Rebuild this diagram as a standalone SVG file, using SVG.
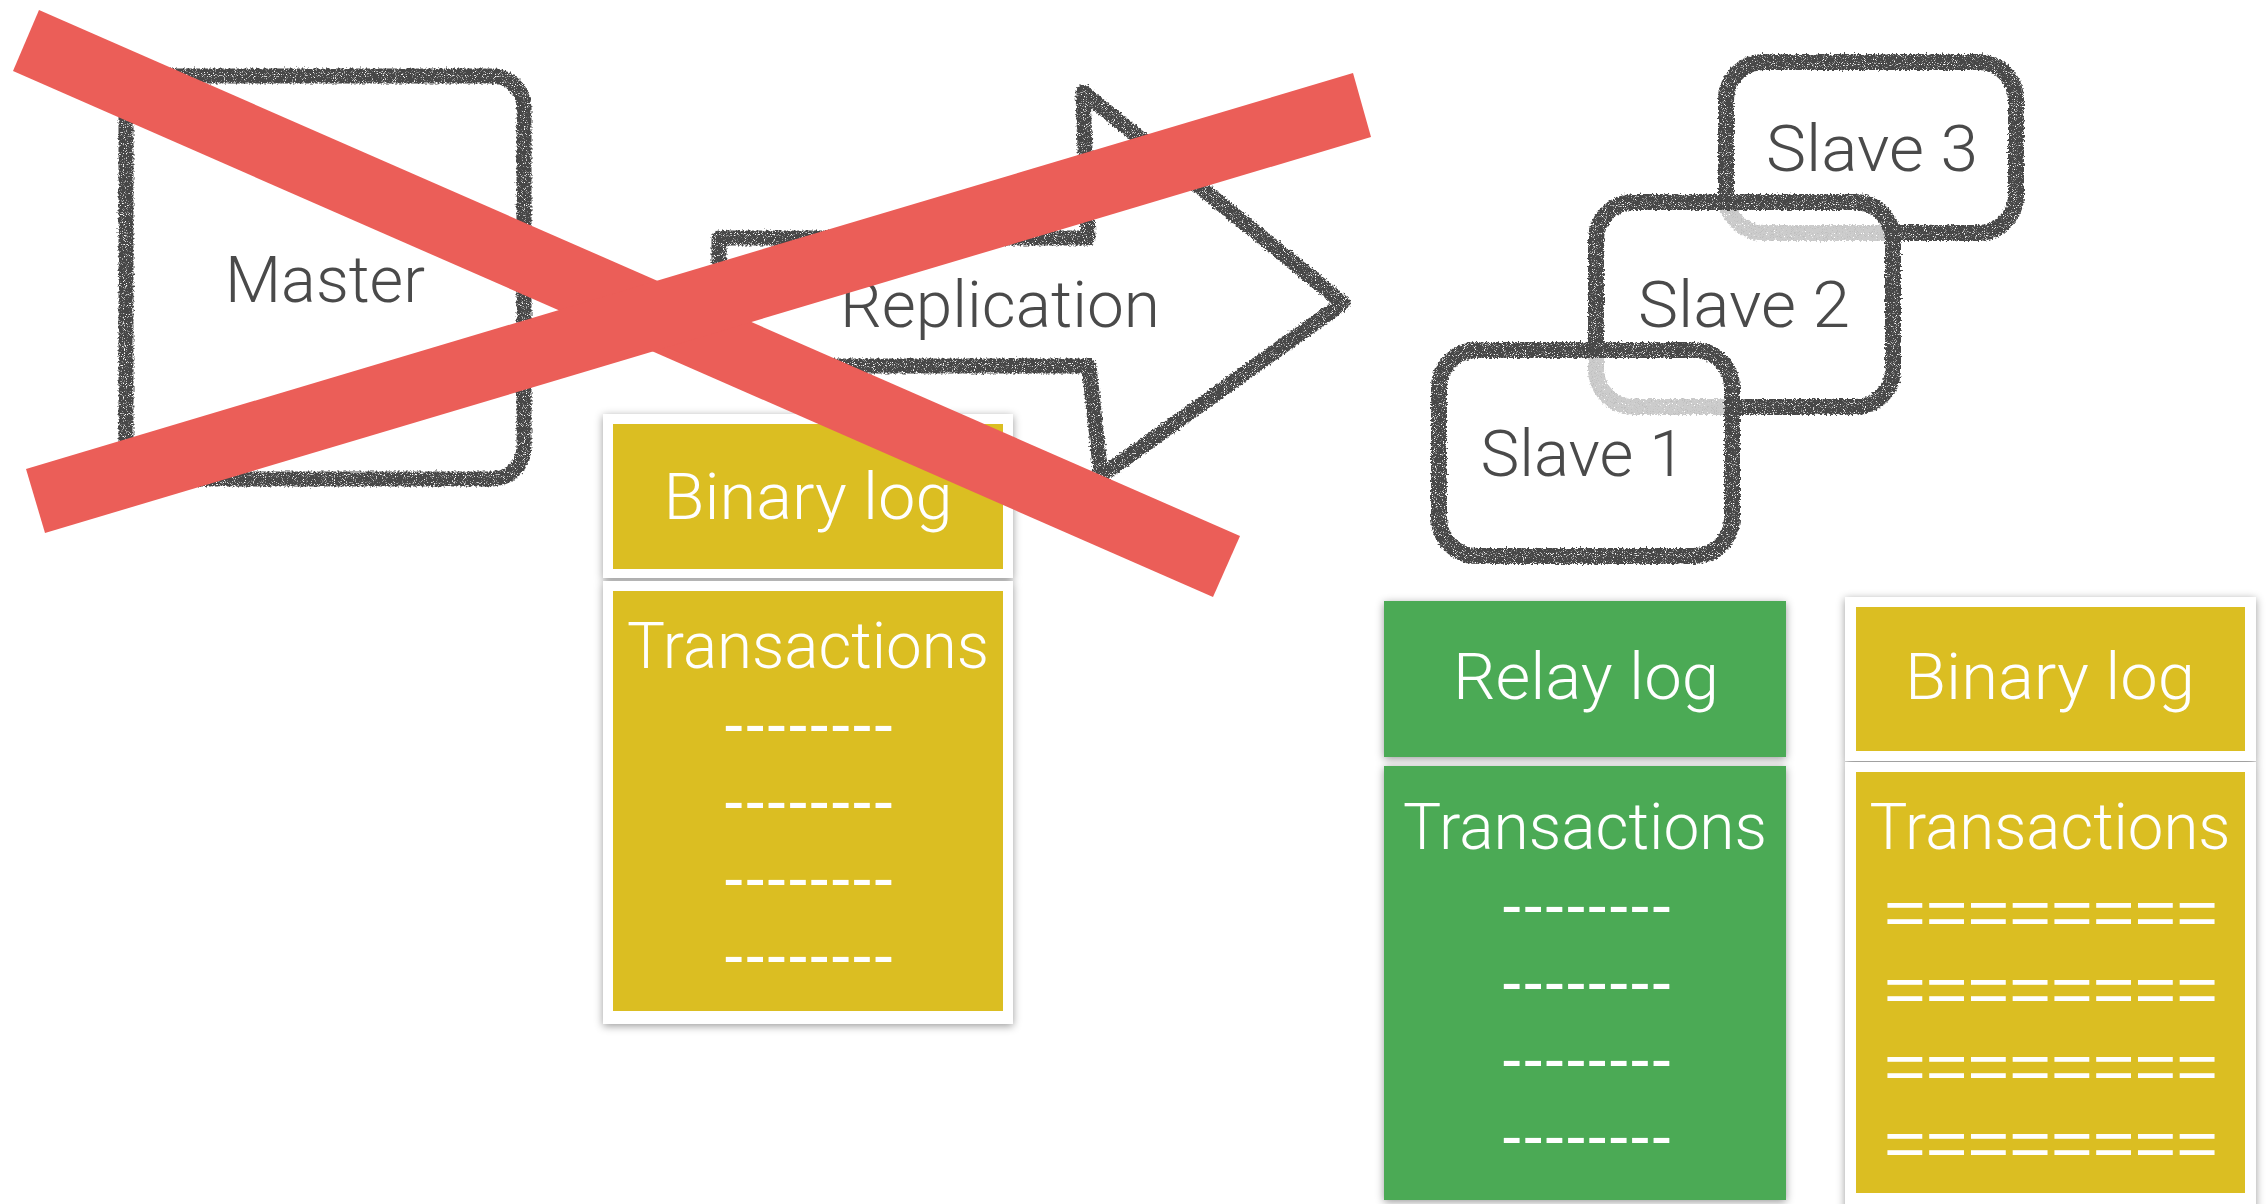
<svg xmlns="http://www.w3.org/2000/svg" width="2267" height="1204" viewBox="0 0 2267 1204">
  <style>
    .word { font-family: "Roboto", "Liberation Sans", Arial, sans-serif; font-weight: 300; font-size: 65px; text-anchor: middle; }
    .ink { fill: #4a4a4a; }
    .paper { fill: #ffffff; }
    .rule { font-family: "Liberation Sans", Arial, sans-serif; font-size: 64px; fill: #ffffff; text-anchor: middle; }
    .sketch { fill: none; stroke: #474747; stroke-width: 15; stroke-linejoin: round; }
    .slave { fill: #ffffff; fill-opacity: 0.72; stroke: #474747; stroke-width: 16; }
    .card { fill: #ffffff; }
    .yellow { fill: #dbbe22; }
    .green { fill: #4caa55; }
    .cross { fill: #eb5e58; }
  </style>
  <defs>
    <!-- rough chalk-like edge for the hand-drawn outlines -->
    <filter id="chalk" x="-10%" y="-10%" width="120%" height="120%">
      <feTurbulence type="fractalNoise" baseFrequency="0.5" numOctaves="2" seed="7" result="warp"/>
      <feDisplacementMap in="SourceGraphic" in2="warp" scale="6" xChannelSelector="R" yChannelSelector="G" result="rough"/>
      <feTurbulence type="fractalNoise" baseFrequency="1.1" numOctaves="1" seed="2" result="grain"/>
      <feColorMatrix in="grain" type="matrix" values="0 0 0 0 0  0 0 0 0 0  0 0 0 0 0  -6 0 0 0 4.4" result="mask"/>
      <feComposite in="rough" in2="mask" operator="in"/>
    </filter>
    <!-- soft shadow under the log cards -->
    <filter id="lift" x="-10%" y="-10%" width="120%" height="120%">
      <feDropShadow dx="0" dy="2" stdDeviation="4" flood-color="#000000" flood-opacity="0.4"/>
    </filter>
  </defs>

  <rect width="2267" height="1204" fill="#ffffff"/>

  <!-- Master server -->
  <g id="master">
    <rect class="sketch" filter="url(#chalk)" x="126" y="76" width="398" height="403" rx="32"/>
    <text class="word ink" x="325" y="302" textLength="200" lengthAdjust="spacingAndGlyphs">Master</text>
  </g>

  <!-- Replication arrow from master to slaves -->
  <g id="connectors">
    <path class="sketch" filter="url(#chalk)" stroke-width="14" d="M719 238 L1088 238 L1083 92 L1343 303 L1101 476 L1089 366 L719 366 Z"/>
    <text class="word ink" x="1000" y="327" textLength="320" lengthAdjust="spacingAndGlyphs">Replication</text>
  </g>

  <!-- Master binary log -->
  <g id="master-binlog">
    <g filter="url(#lift)">
      <rect class="card" x="603" y="414" width="410" height="164"/>
      <rect class="card" x="603" y="581" width="410" height="443"/>
    </g>
    <rect class="yellow" x="613" y="424" width="390" height="145"/>
    <rect class="yellow" x="613" y="591" width="390" height="420"/>
    <text class="word paper" x="808" y="519" textLength="289" lengthAdjust="spacingAndGlyphs">Binary log</text>
    <text class="word paper" x="808" y="668" textLength="362" lengthAdjust="spacingAndGlyphs">Transactions</text>
    <text class="rule" x="808.5" y="746" textLength="171" lengthAdjust="spacingAndGlyphs">--------</text>
    <text class="rule" x="808.5" y="823" textLength="171" lengthAdjust="spacingAndGlyphs">--------</text>
    <text class="rule" x="808.5" y="900" textLength="171" lengthAdjust="spacingAndGlyphs">--------</text>
    <text class="rule" x="808.5" y="977" textLength="171" lengthAdjust="spacingAndGlyphs">--------</text>
  </g>

  <!-- Slaves, stacked back to front -->
  <g id="slave-3">
    <rect class="slave" filter="url(#chalk)" x="1726" y="62" width="290" height="171" rx="38"/>
    <text class="word ink" x="1872" y="171" textLength="212" lengthAdjust="spacingAndGlyphs">Slave 3</text>
  </g>
  <g id="slave-2">
    <rect class="slave" filter="url(#chalk)" x="1596" y="202" width="297" height="205" rx="38"/>
    <text class="word ink" x="1744" y="327" textLength="212" lengthAdjust="spacingAndGlyphs">Slave 2</text>
  </g>
  <g id="slave-1">
    <rect class="slave" filter="url(#chalk)" x="1439" y="350" width="293" height="206" rx="38"/>
    <text class="word ink" x="1583" y="476" textLength="205" lengthAdjust="spacingAndGlyphs">Slave 1</text>
  </g>

  <!-- Slave relay log -->
  <g id="relay-log">
    <g filter="url(#lift)">
      <rect class="green" x="1384" y="601" width="402" height="156"/>
      <rect class="green" x="1384" y="766" width="402" height="434"/>
    </g>
    <text class="word paper" x="1586" y="699" textLength="266" lengthAdjust="spacingAndGlyphs">Relay log</text>
    <text class="word paper" x="1585" y="849" textLength="364" lengthAdjust="spacingAndGlyphs">Transactions</text>
    <text class="rule" x="1586.5" y="927" textLength="171" lengthAdjust="spacingAndGlyphs">--------</text>
    <text class="rule" x="1586.5" y="1004" textLength="171" lengthAdjust="spacingAndGlyphs">--------</text>
    <text class="rule" x="1586.5" y="1081" textLength="171" lengthAdjust="spacingAndGlyphs">--------</text>
    <text class="rule" x="1586.5" y="1158" textLength="171" lengthAdjust="spacingAndGlyphs">--------</text>
  </g>

  <!-- Slave binary log -->
  <g id="slave-binlog">
    <g filter="url(#lift)">
      <rect class="card" x="1845" y="597" width="411" height="164"/>
      <rect class="card" x="1845" y="762" width="411" height="460"/>
    </g>
    <rect class="yellow" x="1856" y="607" width="389" height="144"/>
    <rect class="yellow" x="1856" y="772" width="389" height="421"/>
    <text class="word paper" x="2050" y="699" textLength="290" lengthAdjust="spacingAndGlyphs">Binary log</text>
    <text class="word paper" x="2050" y="849" textLength="361" lengthAdjust="spacingAndGlyphs">Transactions</text>
    <text class="rule" x="2051" y="935" textLength="334" lengthAdjust="spacingAndGlyphs">========</text>
    <text class="rule" x="2051" y="1012" textLength="334" lengthAdjust="spacingAndGlyphs">========</text>
    <text class="rule" x="2051" y="1089" textLength="334" lengthAdjust="spacingAndGlyphs">========</text>
    <text class="rule" x="2051" y="1166" textLength="334" lengthAdjust="spacingAndGlyphs">========</text>
  </g>

  <!-- Red strike-through over the master side -->
  <g id="strike">
    <polygon class="cross" points="39,10 1240,536 1213,597 13,71"/>
    <polygon class="cross" points="26,469 1353,73 1371,137 45,533"/>
  </g>
</svg>
